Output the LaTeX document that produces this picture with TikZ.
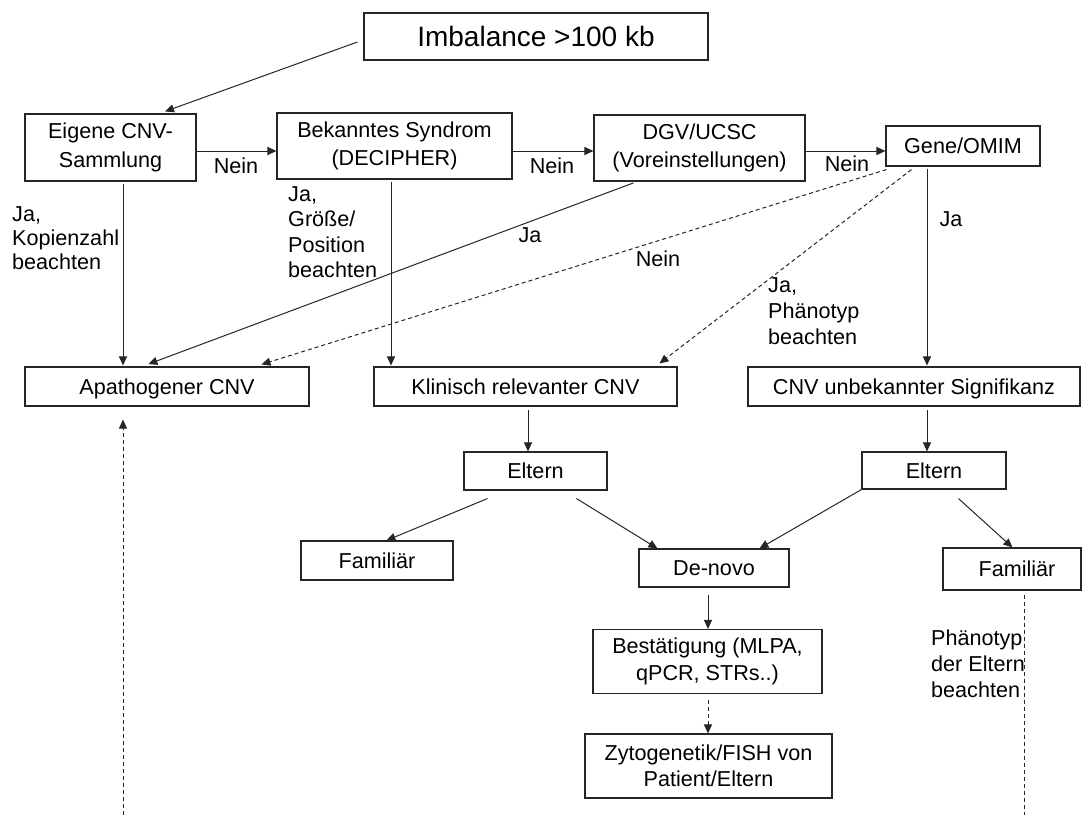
\documentclass[tikz,border=0pt]{standalone}
\usepackage{fontspec}
\setmainfont{Liberation Sans}
\usetikzlibrary{arrows.meta}
\begin{document}
\begin{tikzpicture}[x=1pt,y=-1pt,
  box/.style={draw=black!85,line width=1.1pt,inner sep=0pt,align=center,font=\fontsize{21.6}{27}\selectfont},
  one/.style={text height=15.5pt,text depth=0pt},
  lbl/.style={inner sep=0pt,align=left,font=\fontsize{21.6}{25}\selectfont},
  arr/.style={line width=1pt,draw=black!85,-{Triangle[length=9pt,width=8pt]}},
  dsh/.style={line width=1pt,draw=black!85,dash pattern=on 4pt off 3pt}]
\path[fill=white,use as bounding box] (0,0) rectangle (1082,819);
% boxes
\node[box,minimum width=344,minimum height=47,font=\fontsize{28}{34}\selectfont,text height=20pt,text depth=0pt] (imb) at (536,36.5) {Imbalance >100 kb};
\node[box,minimum width=171,minimum height=67,font=\fontsize{21.6}{28.5}\selectfont] (eig) at (110.5,147.5) {Eigene CNV-\\Sammlung};
\node[box,minimum width=235,minimum height=66,font=\fontsize{21.6}{28.5}\selectfont] (bek) at (394.5,146) {Bekanntes Syndrom\\(DECIPHER)};
\node[box,minimum width=211,minimum height=66,font=\fontsize{21.6}{28.5}\selectfont] (dgv) at (699.5,148) {DGV/UCSC\\(Voreinstellungen)};
\node[box,one,minimum width=154,minimum height=40] (gene) at (963,146) {Gene/OMIM};
\node[box,one,minimum width=284,minimum height=39] (apa) at (167,386.5) {Apathogener CNV};
\node[box,one,minimum width=303,minimum height=39] (klin) at (525.5,386.5) {Klinisch relevanter CNV};
\node[box,one,minimum width=332,minimum height=39] (cnvu) at (914,386.5) {CNV unbekannter Signifikanz};
\node[box,one,minimum width=143,minimum height=38] (el1) at (535.5,471) {Eltern};
\node[box,one,minimum width=144,minimum height=37] (el2) at (934,470.5) {Eltern};
\node[box,one,minimum width=152,minimum height=39] (fam1) at (377,560.5) {Familiär};
\node[box,one,minimum width=150,minimum height=38] (dn) at (714,568) {De-novo};
\node[box,minimum width=229,minimum height=64,font=\fontsize{21.6}{27}\selectfont] (best) at (707.5,661.5) {Bestätigung (MLPA,\\qPCR, STRs..)};
\node[box,minimum width=247,minimum height=64,font=\fontsize{21.6}{26.5}\selectfont] (zyto) at (708.5,766) {Zytogenetik/FISH von\\Patient/Eltern};
\node[box,one,minimum width=138,minimum height=42] (fam2) at (1012,569) {\hspace*{10pt}Familiär};
% labels
\node[lbl] (n1) at (236,166) {Nein};
\node[lbl] (n2) at (552,166) {Nein};
\node[lbl] (n3) at (847,164) {Nein};
\node[lbl,anchor=west,font=\fontsize{21.6}{24}\selectfont] (l1) at (12,238) {Ja,\\Kopienzahl\\beachten};
\node[lbl,anchor=west,font=\fontsize{21.6}{25.5}\selectfont] (l2) at (288,232) {Ja,\\Größe/\\Position\\beachten};
\node[lbl] (l3) at (530,235) {Ja};
\node[lbl] (l4) at (658,259) {Nein};
\node[lbl] (l5) at (951,219) {Ja};
\node[lbl,anchor=west,font=\fontsize{21.6}{26}\selectfont] (l6) at (768,311) {Ja,\\Phänotyp\\beachten};
\node[lbl,anchor=west,font=\fontsize{21.6}{26}\selectfont] (l7) at (931,664) {Phänotyp\\der Eltern\\beachten};
% helper coordinates
\coordinate (row) at (0,151);
\coordinate (xa) at (123,0);
\coordinate (xb) at (391,0);
\coordinate (xc) at (927,0);
\coordinate (xd) at (528,0);
\coordinate (xe) at (708,0);
\coordinate (xf) at (1024,0);
\coordinate (bot1) at (123,815);
\coordinate (bot2) at (1024,815);
% connectors
\draw[arr] ([shift={(-6pt,-5.5pt)}]imb.west) -- ([xshift=54.5pt,yshift=2pt]eig.north);
\draw[arr] (eig.east |- row) -- (bek.west |- row);
\draw[arr] (bek.east |- row) -- (dgv.west |- row);
\draw[arr] (dgv.east |- row) -- (gene.west |- row);
\draw[arr,shorten <=2pt,shorten >=1pt] (eig.south -| xa) -- (apa.north -| xa);
\draw[arr,shorten <=2pt,shorten >=1pt] (bek.south -| xb) -- (klin.north -| xb);
\draw[arr,shorten <=1pt,shorten >=1pt] ([xshift=41pt,yshift=-1pt]dgv.south west) -- ([xshift=123pt,yshift=2pt]apa.north west);
\draw[arr,dsh] ([xshift=1pt,yshift=-3pt]gene.south west) -- ([xshift=237pt,yshift=2pt]apa.north west);
\draw[arr,dsh] ([xshift=26pt,yshift=-3pt]gene.south west) -- ([xshift=286pt,yshift=3pt]klin.north west);
\draw[arr,shorten <=2pt,shorten >=1pt] (gene.south -| xc) -- (cnvu.north -| xc);
\draw[arr,shorten <=3pt] (klin.south -| xd) -- (el1.north -| xd);
\draw[arr,shorten <=3pt] (cnvu.south -| xc) -- (el2.north -| xc);
\draw[arr] ([xshift=24pt,yshift=-8pt]el1.south west) -- ([xshift=86pt]fam1.north west);
\draw[arr] ([xshift=113pt,yshift=-8pt]el1.south west) -- ([xshift=19pt]dn.north west);
\draw[arr] (el2.south west) -- ([xshift=121pt]dn.north west);
\draw[arr] ([xshift=97pt,yshift=-9pt]el2.south west) -- ([xshift=70pt]fam2.north west);
\draw[arr,shorten <=7pt] (dn.south -| xe) -- (best.north -| xe);
\draw[arr,dsh,shorten <=6pt] (best.south -| xe) -- (zyto.north -| xe);
\draw[dsh,shorten <=4pt] (fam2.south -| xf) -- (bot2);
\draw[arr,dsh,shorten >=13pt] (bot1) -- (apa.south -| xa);
\end{tikzpicture}
\end{document}
